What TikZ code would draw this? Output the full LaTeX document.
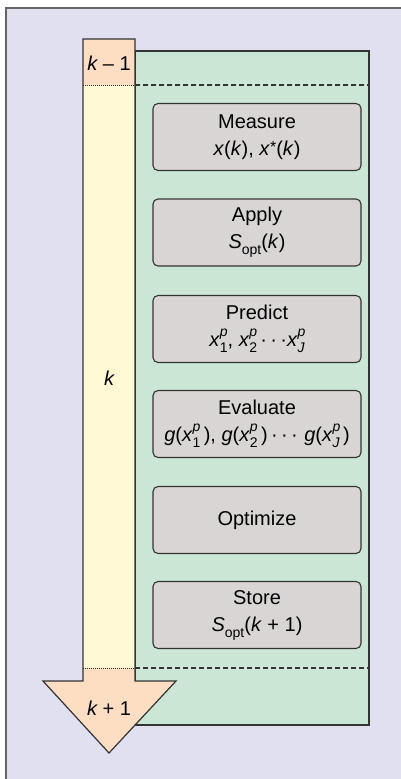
\documentclass[tikz,border=0pt]{standalone}
\usepackage{fontspec}
\setmainfont{Liberation Sans}
\definecolor{lav}{HTML}{E1E0F0}
\definecolor{grn}{HTML}{CBE6D5}
\definecolor{yel}{HTML}{FFF9D5}
\definecolor{org}{HTML}{FDDEC3}
\definecolor{boxg}{HTML}{DAD5D5}
\definecolor{edge}{HTML}{333333}
\definecolor{frm}{HTML}{666666}
\newcommand{\spsb}[2]{\makebox[0pt][l]{\raisebox{.52em}{\fontsize{14}{14}\selectfont\itshape #1}}\raisebox{-.32em}{\fontsize{14}{14}\selectfont #2}}
\newcommand{\sbs}[1]{\raisebox{-.3em}{\fontsize{14}{14}\selectfont #1}}
\newcommand{\astr}{\raisebox{.12em}{\fontsize{16}{16}\selectfont *}}
\begin{document}
\begin{tikzpicture}[x=1pt,y=-1pt,
  stepbox/.style={draw=edge,line width=1.1pt,fill=boxg,rounded corners=5pt,
    minimum width=208pt,minimum height=67pt,align=center,inner sep=0pt,
    font=\fontsize{20}{27}\selectfont},
  lab/.style={font=\fontsize{20}{24}\selectfont\itshape,inner sep=0pt}]
\useasboundingbox (0,0) rectangle (401,779);
% frame
\fill[lav] (6,7.5) rectangle (401,779);
\draw[frm,line width=2pt] (6,779) -- (6,7.5) -- (401,7.5);
% green panel
\draw[edge,fill=grn,line width=1.2pt] (135,51) rectangle (369,725);
% arrow fills
\fill[org] (83,39) rectangle (135,85);
\fill[yel] (83,85) rectangle (135,668);
\fill[org] (83,668) -- (135,668) -- (135,681) -- (176,681) -- (109,753) -- (43,681) -- (83,681) -- cycle;
\draw[edge,line width=1.2pt] (83,39) -- (135,39) -- (135,681) -- (176,681) -- (109,753) -- (43,681) -- (83,681) -- cycle;
% separators
\coordinate (t1) at (83,85); \coordinate (t2) at (135,85); \coordinate (t3) at (369,85);
\coordinate (b1) at (83,668); \coordinate (b2) at (135,668); \coordinate (b3) at (369,668);
\draw[edge,line width=0.9pt,dash pattern=on 1pt off 1pt] (t1) -- (t2);
\draw[edge,line width=1.2pt,dash pattern=on 5pt off 3pt] (t2) -- (t3);
\draw[edge,line width=0.9pt,dash pattern=on 1pt off 1pt] (b1) -- (b2);
\draw[edge,line width=1.2pt,dash pattern=on 5pt off 3pt] (b2) -- (b3);
% labels
\node[lab] (km1) at (109,63) {k\upshape\ – 1};
\node[lab] (kk) at (109,378) {k};
\node[lab] (kp1) at (109,708) {k\upshape\ + 1};
% steps
\node[stepbox] (measure) at (257,137) {Measure\\\textit{x}(\textit{k}), \textit{x}\astr(\textit{k})};
\node[stepbox] (apply) at (257,232.5) {Apply\\\textit{S}\sbs{opt}(\textit{k})};
\node[stepbox] (predict) at (257,329) {Predict\\\textit{x}\spsb{p}{1}, \textit{x}\spsb{p}{2}\,·\,·\,·\textit{x}\spsb{p}{\itshape J}};
\node[stepbox] (evaluate) at (257,424) {Evaluate\\\textit{g}(\textit{x}\spsb{p}{1}\,), \textit{g}(\textit{x}\spsb{p}{2}\,)\,·\,·\,·\,\,\textit{g}(\textit{x}\spsb{p}{\itshape J}\,)};
\node[stepbox] (optimize) at (257,520) {Optimize};
\node[stepbox] (store) at (257,615) {Store\\\textit{S}\sbs{opt}(\textit{k} + 1)};
\end{tikzpicture}
\end{document}
